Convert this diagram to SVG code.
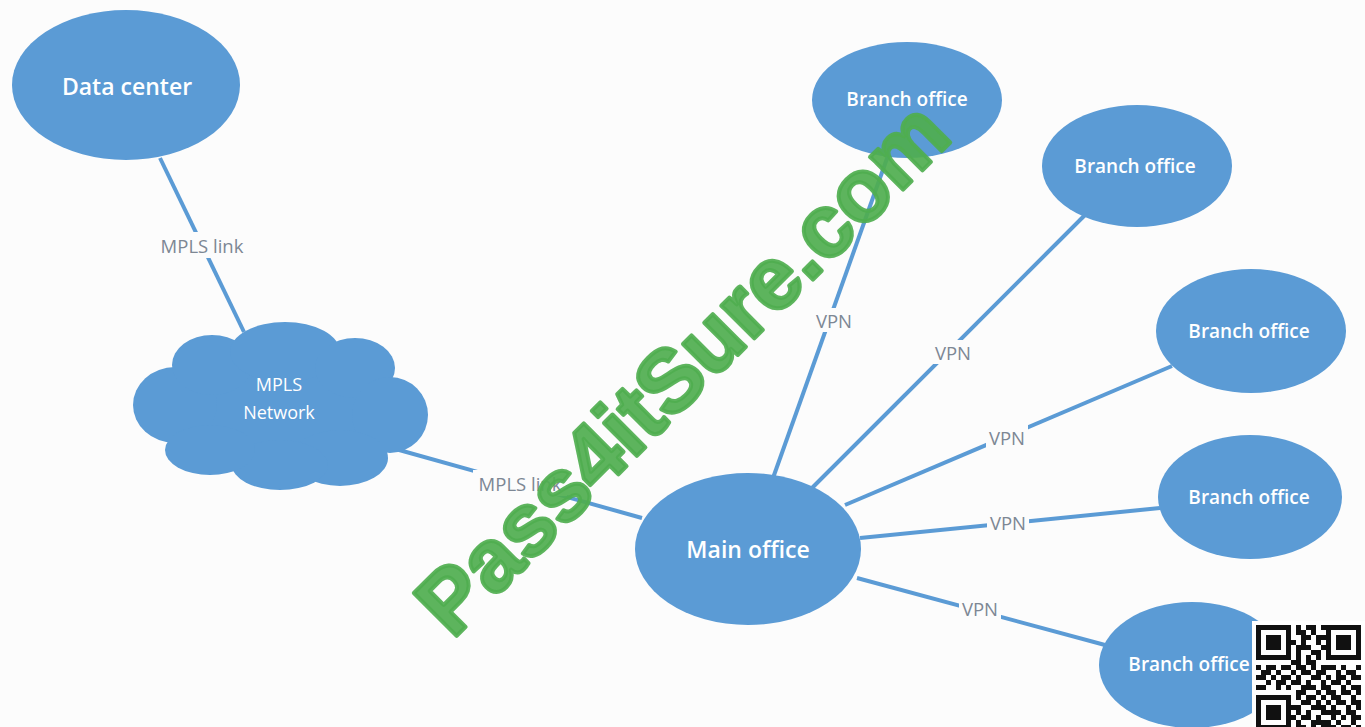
<svg xmlns="http://www.w3.org/2000/svg" width="1365" height="727" viewBox="0 0 1365 727">
<style>
.node{fill:#5b9bd5}
.nt{font-family:"Open Sans","Noto Sans",sans-serif;font-weight:600;fill:#ffffff;text-anchor:middle;dominant-baseline:central}
.ct{font-family:"Open Sans","Noto Sans",sans-serif;font-weight:400;fill:#ffffff;text-anchor:middle;font-size:18px}
.edge{stroke:#5b9bd5;stroke-width:4;fill:none}
.lbg{fill:#fcfcfc}
.lt{font-family:"Open Sans","Noto Sans",sans-serif;font-size:18.5px;fill:#7d8794;text-anchor:middle;dominant-baseline:central}
</style>
<rect width="1365" height="727" fill="#fcfcfc"/>
<g id="connectors">
<line class="edge" x1="160" y1="158" x2="244" y2="332"/>
<line class="edge" x1="392" y1="448" x2="642" y2="518"/>
<line class="edge" x1="773" y1="478" x2="890" y2="150"/>
<line class="edge" x1="812" y1="488" x2="1085" y2="215"/>
<line class="edge" x1="845" y1="505" x2="1172" y2="366"/>
<line class="edge" x1="860" y1="538" x2="1160" y2="508"/>
<line class="edge" x1="857" y1="578" x2="1105" y2="645"/>
<rect class="lbg" x="155" y="232" width="94" height="26"/>
<text class="lt" x="202" y="245">MPLS link</text>
<rect class="lbg" x="473" y="470" width="94" height="26"/>
<text class="lt" x="520" y="483">MPLS link</text>
<rect class="lbg" x="813" y="308" width="42" height="24"/>
<text class="lt" x="834" y="320">VPN</text>
<rect class="lbg" x="932" y="340" width="42" height="24"/>
<text class="lt" x="953" y="352">VPN</text>
<rect class="lbg" x="986" y="425" width="42" height="24"/>
<text class="lt" x="1007" y="437">VPN</text>
<rect class="lbg" x="987" y="510" width="42" height="24"/>
<text class="lt" x="1008" y="522">VPN</text>
<rect class="lbg" x="959" y="596" width="42" height="24"/>
<text class="lt" x="980" y="608">VPN</text>
</g>
<g id="data-center">
<ellipse class="node" cx="126" cy="85" rx="114" ry="75"/>
<text class="nt" x="127" y="86" font-size="23">Data center</text>
</g>
<g id="mpls-network">
<g class="node">
<ellipse cx="280" cy="410" rx="115" ry="60"/>
<ellipse cx="175" cy="405" rx="42" ry="38"/>
<ellipse cx="212" cy="365" rx="40" ry="30"/>
<ellipse cx="285" cy="352" rx="55" ry="30"/>
<ellipse cx="355" cy="368" rx="40" ry="30"/>
<ellipse cx="390" cy="415" rx="38" ry="38"/>
<ellipse cx="340" cy="458" rx="48" ry="28"/>
<ellipse cx="280" cy="465" rx="48" ry="25"/>
<ellipse cx="210" cy="450" rx="45" ry="25"/>
</g>
<text class="ct" x="279" y="391">MPLS</text>
<text class="ct" x="279" y="419">Network</text>
</g>
<g id="main-office">
<ellipse class="node" cx="748" cy="549" rx="113" ry="76"/>
<text class="nt" x="748" y="549" font-size="23">Main office</text>
</g>
<g id="branch-office-1">
<ellipse class="node" cx="907" cy="100" rx="95" ry="58"/>
<text class="nt" x="907" y="99" font-size="19">Branch office</text>
</g>
<g id="branch-office-2">
<ellipse class="node" cx="1137" cy="166" rx="95" ry="61"/>
<text class="nt" x="1135" y="166" font-size="19">Branch office</text>
</g>
<g id="branch-office-3">
<ellipse class="node" cx="1251" cy="331" rx="95" ry="62"/>
<text class="nt" x="1249" y="331" font-size="19">Branch office</text>
</g>
<g id="branch-office-4">
<ellipse class="node" cx="1250" cy="497" rx="92" ry="62"/>
<text class="nt" x="1249" y="497" font-size="19">Branch office</text>
</g>
<g id="branch-office-5">
<ellipse class="node" cx="1192" cy="665" rx="93" ry="63"/>
<text class="nt" x="1189" y="664" font-size="19">Branch office</text>
</g>
<g id="watermark" transform="translate(680,366) rotate(-45)">
<text x="0" y="33" text-anchor="middle" font-family="Liberation Sans, Arial, sans-serif" font-weight="700" font-size="88" fill="#4fae4f" fill-opacity="0.92" stroke="#4fae4f" stroke-opacity="0.92" stroke-width="4" stroke-linejoin="round">Pass4itSure.com</text>
</g>
<g id="qr">
<rect x="1252" y="621" width="113" height="106" fill="#ffffff"/>
<path fill="none" stroke="#111111" stroke-width="5" d="M1256 627.5h35M1296 627.5h5M1306 627.5h10M1321 627.5h40M1256 632.5h5M1286 632.5h5M1296 632.5h10M1311 632.5h5M1326 632.5h5M1356 632.5h5M1256 637.5h5M1266 637.5h15M1286 637.5h5M1301 637.5h10M1316 637.5h15M1336 637.5h15M1356 637.5h5M1256 642.5h5M1266 642.5h15M1286 642.5h10M1301 642.5h5M1316 642.5h5M1326 642.5h5M1336 642.5h15M1356 642.5h5M1256 647.5h5M1266 647.5h15M1286 647.5h5M1296 647.5h15M1321 647.5h10M1336 647.5h15M1356 647.5h5M1256 652.5h5M1286 652.5h5M1296 652.5h5M1311 652.5h10M1326 652.5h5M1356 652.5h5M1256 657.5h35M1296 657.5h5M1306 657.5h5M1316 657.5h5M1326 657.5h35M1291 662.5h10M1306 662.5h10M1256 667.5h5M1266 667.5h10M1281 667.5h10M1296 667.5h10M1311 667.5h5M1321 667.5h15M1341 667.5h5M1356 667.5h5M1261 672.5h10M1276 672.5h5M1291 672.5h5M1301 672.5h10M1316 672.5h10M1336 672.5h5M1346 672.5h10M1256 677.5h10M1271 677.5h5M1281 677.5h10M1296 677.5h5M1311 677.5h10M1326 677.5h5M1336 677.5h10M1351 677.5h10M1266 682.5h5M1276 682.5h10M1291 682.5h10M1306 682.5h5M1321 682.5h5M1331 682.5h10M1346 682.5h5M1256 687.5h10M1276 687.5h5M1286 687.5h5M1301 687.5h15M1321 687.5h10M1341 687.5h5M1351 687.5h10M1296 692.5h10M1316 692.5h5M1326 692.5h10M1341 692.5h10M1356 692.5h5M1256 697.5h35M1296 697.5h5M1306 697.5h10M1321 697.5h5M1331 697.5h10M1351 697.5h5M1256 702.5h5M1286 702.5h5M1301 702.5h10M1316 702.5h5M1326 702.5h5M1336 702.5h10M1351 702.5h10M1256 707.5h5M1266 707.5h15M1286 707.5h15M1311 707.5h15M1331 707.5h5M1346 707.5h5M1356 707.5h5M1256 712.5h5M1266 712.5h15M1286 712.5h5M1296 712.5h5M1306 712.5h5M1321 712.5h20M1346 712.5h10M1256 717.5h5M1266 717.5h15M1286 717.5h10M1301 717.5h10M1316 717.5h5M1331 717.5h5M1341 717.5h5M1351 717.5h10M1256 722.5h5M1286 722.5h5M1296 722.5h5M1311 722.5h20M1336 722.5h5M1351 722.5h5M1256 727.5h35M1296 727.5h10M1311 727.5h5M1321 727.5h15M1341 727.5h10M1356 727.5h5"/>
</g>
</svg>
